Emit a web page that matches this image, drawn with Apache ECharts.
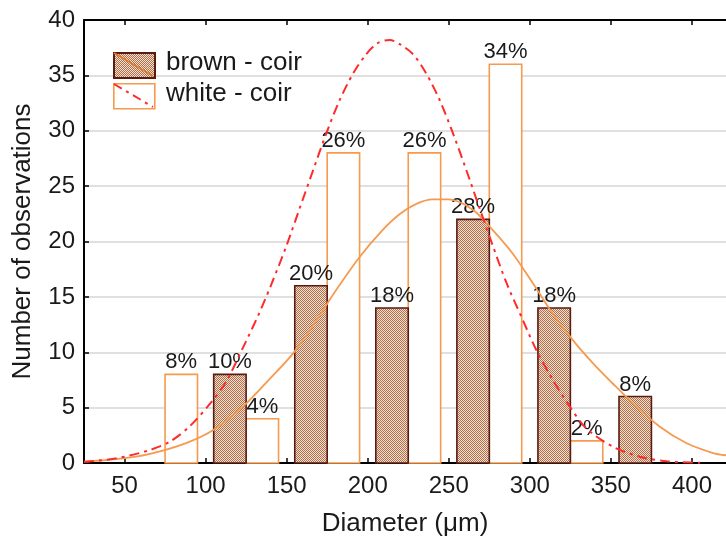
<!DOCTYPE html>
<html>
<head>
<meta charset="utf-8">
<script src="https://cdn.jsdelivr.net/npm/echarts@6/dist/echarts.min.js"></script>
<style>
html,body{margin:0;padding:0;background:#fff;}
#chart{width:726px;height:544px;}
</style>
</head>
<body>
<div id="chart"></div>
<script>
// ---- data ----
const xTicks = [50, 100, 150, 200, 250, 300, 350, 400];
const yTicks = [0, 5, 10, 15, 20, 25, 30, 35, 40];
const whiteBins = [[75, 95], [125, 145], [175, 195], [225, 245], [275, 295], [325, 345]];
const whiteCounts = [8, 4, 28, 28, 36, 2];
const whiteLabels = ['8%', '4%', '26%', '26%', '34%', '2%'];
const brownBins = [[105, 125], [155, 175], [205, 225], [255, 275], [305, 325], [355, 375]];
const brownCounts = [8, 16, 14, 22, 14, 6];
const brownLabels = ['10%', '20%', '18%', '28%', '18%', '8%'];
const whiteCurve = [[25,0.1],[45,0.42],[65.6,1.17],[78,1.93],[90,3.28],[103,5.4],[112.7,7.35],[123,10.4],[133,13.5],[141.3,16.4],[149.6,19.5],[157.8,22.9],[166,26.3],[174.3,29.7],[182.5,32.7],[190.7,35.1],[199,36.9],[206,37.9],[213.5,38.2],[220,37.8],[228,36.9],[236,35.2],[244.3,32.8],[252.5,29.8],[260.7,26.5],[269,23.0],[277.2,19.6],[285.5,16.3],[295.7,12.9],[304,10.2],[314.2,7.5],[324.6,5.1],[335,3.1],[351.3,1.47],[367.8,0.57],[384.3,0.15],[405,0.02]];
const brownCurve = [[25,0.12],[49,0.42],[65,0.8],[88,1.8],[105,3.0],[123,5.1],[137,7.2],[154,9.9],[168,12.8],[180,15.5],[195,18.6],[209,21.0],[220,22.5],[230,23.4],[240,23.8],[250,23.8],[265,22.85],[277,21.05],[289.5,18.9],[302,16.2],[314,13.5],[326.5,11.1],[339,9.0],[351,7.2],[363.5,5.4],[380,3.3],[396.5,1.8],[413,0.9],[421,0.7]];

// ---- styles ----
const FONT = '"Liberation Sans", Arial, sans-serif';
const TXT = '#1a1a1a';
const ORANGE = '#f59a4e';
const RED = '#ff2a2a';
const BROWN_EDGE = '#5a1a12';

function makePattern() {
  const c = document.createElement('canvas');
  c.width = 2; c.height = 2;
  const g = c.getContext('2d');
  g.fillStyle = '#f2e0cc'; g.fillRect(0, 0, 2, 2);
  g.fillStyle = '#ad7050'; g.fillRect(0, 0, 1, 1); g.fillRect(1, 1, 1, 1);
  return c;
}
const patternCanvas = makePattern();
const brownFill = { image: patternCanvas, repeat: 'repeat' };

function barSeries(name, bins, counts, labels, fill, stroke) {
  return {
    name: name,
    type: 'custom',
    z: 2,
    data: bins.map((b, i) => [b[0], b[1], counts[i], i]),
    renderItem: function (params, api) {
      const p0 = api.coord([api.value(0), api.value(2)]);
      const p1 = api.coord([api.value(1), 0]);
      const idx = api.value(3);
      return {
        type: 'group',
        children: [
          { type: 'rect', shape: { x: p0[0], y: p0[1], width: p1[0] - p0[0], height: p1[1] - p0[1] },
            style: { fill: fill, stroke: stroke, lineWidth: 1.6 } },
          { type: 'text', z2: 50, style: { x: (p0[0] + p1[0]) / 2, y: p0[1] - 1, text: labels[idx],
            align: 'center', verticalAlign: 'bottom', fill: TXT, font: '22px ' + FONT } }
        ]
      };
    }
  };
}

const chart = echarts.init(document.getElementById('chart'), null, { renderer: 'canvas' });
chart.setOption({
  animation: false,
  backgroundColor: '#ffffff',
  grid: { left: 84, right: 0, top: 20, bottom: 81, containLabel: false, outerBoundsMode: 'none' },
  xAxis: [{
    type: 'value', min: 25, max: 421, position: 'bottom',
    name: 'Diameter (μm)', nameLocation: 'middle', nameGap: 48,
    nameTextStyle: { fontSize: 26, color: TXT, fontFamily: FONT },
    axisLine: { show: true, onZero: false, lineStyle: { color: '#000', width: 2 } },
    axisTick: { show: true, inside: true, length: 5, customValues: xTicks, lineStyle: { color: '#000', width: 1.5 } },
    axisLabel: { customValues: xTicks, fontSize: 24, color: TXT, fontFamily: FONT, margin: 11 },
    splitLine: { show: false }
  }, {
    type: 'value', min: 25, max: 421, position: 'top',
    axisLine: { show: true, onZero: false, lineStyle: { color: '#000', width: 2 } },
    axisTick: { show: true, inside: true, length: 5, customValues: xTicks, lineStyle: { color: '#000', width: 1.5 } },
    axisLabel: { show: false },
    splitLine: { show: false }
  }],
  yAxis: {
    type: 'value', min: 0, max: 40, interval: 5,
    name: 'Number of observations', nameLocation: 'middle', nameGap: 48,
    nameTextStyle: { fontSize: 26, color: TXT, fontFamily: FONT },
    axisLine: { show: true, lineStyle: { color: '#000', width: 2 } },
    axisTick: { show: true, inside: true, length: 5, lineStyle: { color: '#000', width: 1.5 } },
    axisLabel: { fontSize: 24, color: TXT, fontFamily: FONT, margin: 9,
      formatter: v => (yTicks.indexOf(v) >= 0 ? String(v) : '') },
    splitLine: { show: true, lineStyle: { color: '#d6d6d6', width: 1.5 } }
  },
  series: [
    barSeries('white - coir', whiteBins, whiteCounts, whiteLabels, '#ffffff', ORANGE),
    barSeries('brown - coir', brownBins, brownCounts, brownLabels, brownFill, BROWN_EDGE),
    { name: 'white fit', type: 'line', z: 5, data: whiteCurve, smooth: 0.3, showSymbol: false,
      lineStyle: { color: RED, width: 2, type: [10, 5, 3, 5] } },
    { name: 'brown fit', type: 'line', z: 4, data: brownCurve, smooth: 0.3, showSymbol: false,
      lineStyle: { color: ORANGE, width: 1.8 } }
  ],
  graphic: [
    { type: 'rect', left: 113, top: 52, shape: { width: 41, height: 25 },
      style: { fill: brownFill, stroke: BROWN_EDGE, lineWidth: 2 }, z: 100 },
    { type: 'line', shape: { x1: 114, y1: 53, x2: 153, y2: 76 }, style: { stroke: '#e07a30', lineWidth: 2 }, z: 101 },
    { type: 'text', left: 166, top: 50, style: { text: 'brown - coir', font: '26px ' + FONT, fill: TXT }, z: 100 },
    { type: 'rect', left: 113, top: 83, shape: { width: 41, height: 25 },
      style: { fill: '#fff', stroke: ORANGE, lineWidth: 1.6 }, z: 100 },
    { type: 'line', shape: { x1: 114, y1: 84, x2: 153, y2: 107 }, style: { stroke: RED, lineWidth: 2, lineDash: [9, 5, 3, 5] }, z: 101 },
    { type: 'text', left: 166, top: 81, style: { text: 'white - coir', font: '26px ' + FONT, fill: TXT }, z: 100 }
  ]
});
</script>
</body>
</html>
